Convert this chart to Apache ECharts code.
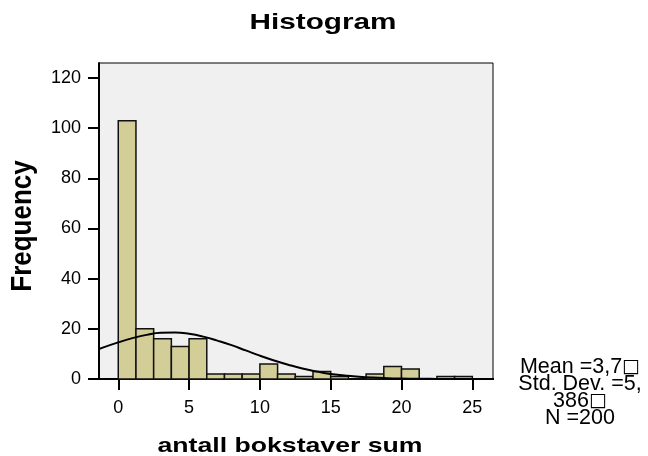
<!DOCTYPE html>
<html>
<head>
<meta charset="utf-8">
<script src="https://cdn.jsdelivr.net/npm/echarts@6/dist/echarts.min.js"></script>
<style>
  html, body { margin: 0; padding: 0; background: #fff; }
  #chart { width: 648px; height: 456px; }
</style>
</head>
<body>
<div id="chart"></div>
<script>
// histogram bins (width 1.25) and counts
var binEdges = [0, 1.25, 2.5, 3.75, 5, 6.25, 7.5, 8.75, 10, 11.25, 12.5, 13.75, 15, 16.25, 17.5, 18.75, 20, 21.25, 22.5, 23.75, 25];
var counts = [103, 20, 16, 13, 16, 2, 2, 2, 6, 2, 1, 3, 1, 0, 2, 5, 4, 0, 1, 1];

// normal curve
var curveX = [-1.5, -1, 0, 1, 2, 3, 4, 5, 6, 7, 8, 9, 10, 11, 12, 13, 14, 15, 16, 17, 18, 19, 20, 21, 22, 23, 24, 25, 26, 27];
var curveY = [11.6, 12.7, 14.6, 16.3, 17.6, 18.4, 18.5, 18.0, 16.9, 15.3, 13.5, 11.4, 9.3, 7.4, 5.7, 4.2, 3.0, 2.0, 1.4, 0.9, 0.55, 0.33, 0.19, 0.11, 0.06, 0.03, 0.01, 0.01, 0, 0];

var xTicks = [0, 5, 10, 15, 20, 25];
var yTicks = [0, 20, 40, 60, 80, 100, 120];

var titleText = 'Histogram';
var xName = 'antall bokstaver sum';
var yName = 'Frequency';
var statLines = ['Mean =3,7{box|□}', 'Std. Dev. =5,', '386{box|□}', 'N =200'];

var font = '"Liberation Sans", Arial, sans-serif';

var bars = [];
for (var i = 0; i < counts.length; i++) {
  bars.push([binEdges[i], binEdges[i + 1], counts[i]]);
}
var curve = [];
for (var j = 0; j < curveX.length; j++) {
  curve.push([curveX[j], curveY[j]]);
}

var chart = echarts.init(document.getElementById('chart'), null, { renderer: 'canvas' });
chart.setOption({
  animation: false,
  backgroundColor: '#ffffff',
  textStyle: { fontFamily: font },
  grid: {
    left: 99, right: 155, top: 63, bottom: 77,
    outerBoundsMode: 'none',
    show: true,
    backgroundColor: '#f0f0f0',
    borderColor: '#000',
    borderWidth: 1
  },
  xAxis: {
    type: 'value',
    min: -1.36,
    max: 26.46,
    axisLine: { onZero: false, lineStyle: { color: '#000', width: 2 } },
    axisTick: { customValues: xTicks, length: 11, lineStyle: { color: '#000', width: 2 } },
    axisLabel: { customValues: xTicks, fontSize: 18, color: '#000', margin: 20, fontFamily: font },
    splitLine: { show: false }
  },
  yAxis: {
    type: 'value',
    min: 0,
    max: 126,
    axisLine: { show: true, onZero: false, lineStyle: { color: '#000', width: 2 } },
    axisTick: { show: true, customValues: yTicks, length: 11, lineStyle: { color: '#000', width: 2 } },
    axisLabel: { customValues: yTicks, fontSize: 18, color: '#000', margin: 18, fontFamily: font },
    splitLine: { show: false }
  },
  graphic: [{
    // title, drawn wide like the original
    type: 'text',
    x: 323, y: 23,
    scaleX: 1.32,
    style: { text: titleText, font: 'bold 22.5px ' + font, fill: '#000', align: 'center', verticalAlign: 'middle' }
  }, {
    type: 'text',
    x: 290, y: 446,
    scaleX: 1.3,
    style: { text: xName, font: 'bold 20.5px ' + font, fill: '#000', align: 'center', verticalAlign: 'middle' }
  }, {
    type: 'text',
    x: 23, y: 226,
    rotation: Math.PI / 2,
    scaleY: 1.17,
    style: { text: yName, font: 'bold 26px ' + font, fill: '#000', align: 'center', verticalAlign: 'middle' }
  }, {
    type: 'text',
    x: 580, y: 359,
    style: {
      text: statLines.join('\n'),
      font: '21.5px ' + font,
      fill: '#000',
      align: 'center',
      verticalAlign: 'top',
      lineHeight: 17,
      rich: {
        box: { fontFamily: '"DejaVu Sans"', fontSize: 19, color: '#b8b8b8', lineHeight: 17 }
      }
    }
  }],
  series: [{
    type: 'custom',
    data: bars,
    encode: { x: [0, 1], y: 2 },
    renderItem: function (params, api) {
      var x0 = api.value(0), x1 = api.value(1), y = api.value(2);
      var p0 = api.coord([x0, y]);
      var p1 = api.coord([x1, 0]);
      return {
        type: 'rect',
        shape: { x: p0[0], y: p0[1], width: p1[0] - p0[0], height: p1[1] - p0[1] },
        style: { fill: '#d3ce98', stroke: '#111', lineWidth: 1.5 }
      };
    }
  }, {
    type: 'line',
    data: curve,
    smooth: true,
    symbol: 'none',
    clip: true,
    lineStyle: { color: '#000', width: 2 },
    z: 3
  }]
});
</script>
</body>
</html>
